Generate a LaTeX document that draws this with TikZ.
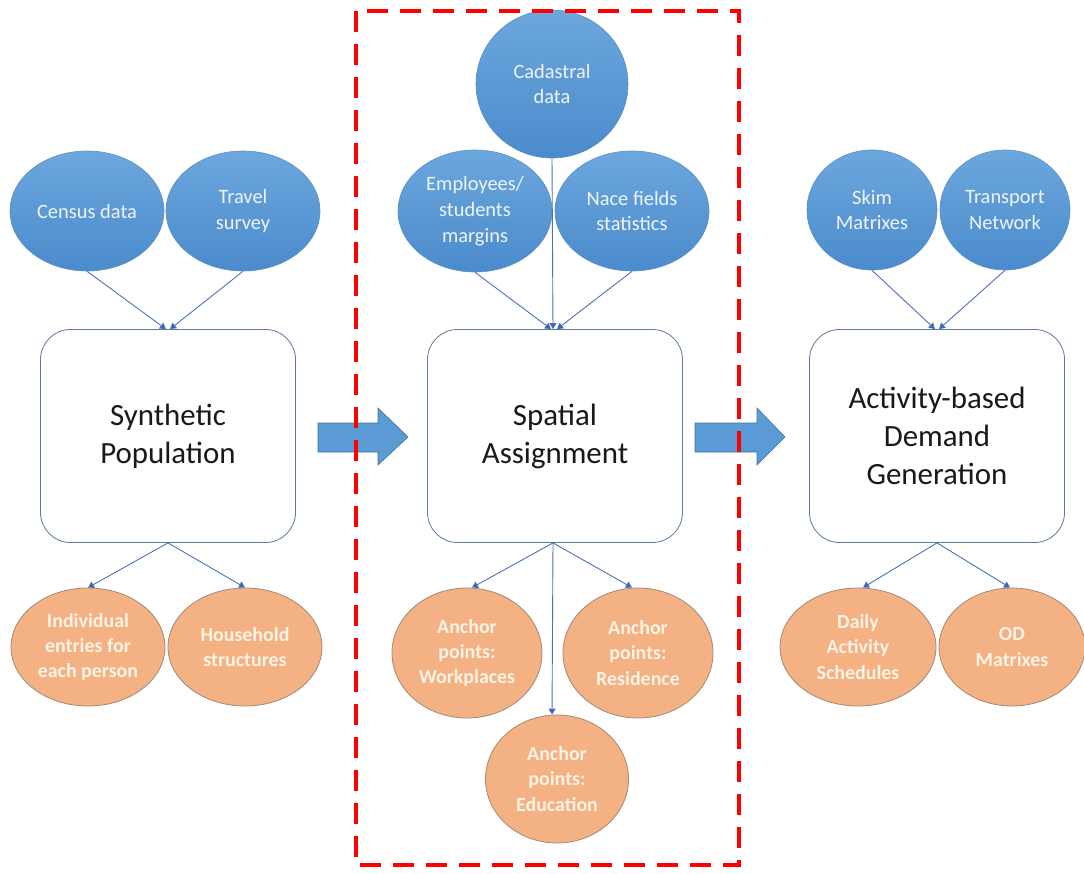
\documentclass[tikz,border=0pt]{standalone}
\usepackage{fontspec}
\setmainfont{Carlito}
\usetikzlibrary{shapes.geometric,arrows.meta}
\definecolor{blueTop}{HTML}{6CA7DD}
\definecolor{blueBot}{HTML}{4B8BCC}
\definecolor{blueEdge}{HTML}{5A8FC4}
\definecolor{blueText}{HTML}{EEF4FB}
\definecolor{orFill}{HTML}{F4B183}
\definecolor{orEdge}{HTML}{A08A78}
\definecolor{orText}{HTML}{FFF3E6}
\definecolor{lineBlue}{HTML}{4A72B8}
\definecolor{tipBlue}{HTML}{3A62B0}
\definecolor{boxEdge}{HTML}{5B7A9E}
\definecolor{bigArrow}{HTML}{5B9BD5}
\definecolor{bigArrowEdge}{HTML}{41719C}
\definecolor{redDash}{HTML}{FF0000}
\begin{document}
\begin{tikzpicture}[x=1bp,y=-1bp,
  src/.style={ellipse, draw=blueEdge, line width=0.6bp, top color=blueTop, bottom color=blueBot,
    text=blueText, font=\fontsize{20.5}{26}\selectfont, align=center, inner sep=0pt,
    minimum width=154bp, minimum height=120bp},
  res/.style={ellipse, draw=orEdge, line width=0.8bp, fill=orFill,
    text=orText, font=\fontsize{20}{25.5}\selectfont\bfseries, align=center, inner sep=0pt,
    minimum width=154bp, minimum height=118bp},
  stage/.style={draw=boxEdge, line width=0.8bp, fill=white, rounded corners=30bp,
    minimum width=255bp, minimum height=213bp, align=center,
    font=\fontsize{31}{38}\selectfont, text=black!90},
  conn/.style={draw=lineBlue, line width=0.9bp, -{Triangle[width=7bp,length=6bp,fill=tipBlue]}},
  bigarrow/.style={fill=bigArrow, draw=bigArrowEdge, line width=0.6bp},
  frame/.style={draw=redDash, line width=4bp, dash pattern=on 21bp off 12bp}
]
\useasboundingbox (0,0) rectangle (1084,874);

% ---------- left column ----------
\node[src] (census) at (87,211) {Census data};
\node[src] (travel) at (243,211) {Travel\\survey};
\node[stage] (synth) at (168,436) {Synthetic\\Population};
\node[res] (indiv) at (88,647) {Individual\\entries for\\each person};
\node[res] (house) at (245,647) {Household\\structures};

\draw[conn] (census.south) -- ([xshift=-2bp]synth.north);
\draw[conn] (travel.south) -- ([xshift=2bp]synth.north);
\draw[conn] (synth.south) -- (indiv.north);
\draw[conn] (synth.south) -- (house.north);

% ---------- middle column ----------
\node[src, minimum width=152bp, minimum height=148bp] (cad) at (552,84) {Cadastral\\data};
\node[src, minimum height=122bp] (empl) at (475,211) {Employees/\\students\\margins};
\node[src] (nace) at (632,211) {Nace fields\\statistics};
\node[stage] (spat) at (555,436) {Spatial\\Assignment};
\node[res, minimum width=150bp, minimum height=130bp] (work) at (467,653) {Anchor\\points:\\Workplaces};
\node[res, minimum width=150bp, minimum height=130bp] (resid) at (638,653) {Anchor\\points:\\Residence};
\node[res, minimum width=143bp, minimum height=128bp] (edu) at (557,779) {Anchor\\points:\\Education};

\draw[conn] (empl.south) -- ([xshift=-4bp]spat.north);
\draw[conn] (cad.south) -- ([xshift=-2bp]spat.north);
\draw[conn] (nace.south) -- ([xshift=2bp]spat.north);
\draw[conn] ([xshift=-2bp]spat.south) -- ([xshift=5bp]work.north);
\draw[conn] ([xshift=-2bp]spat.south) -- ([xshift=-6bp]resid.north);
\draw[conn] ([xshift=-2bp]spat.south) -- ([xshift=-5bp]edu.north);

% ---------- right column ----------
\node[src, minimum width=130bp] (skim) at (872,210) {Skim\\Matrixes};
\node[src, minimum width=130bp] (trans) at (1005,210) {Transport\\Network};
\node[stage] (act) at (937,436) {Activity-based\\Demand\\Generation};
\node[res, minimum width=156bp] (daily) at (858,647) {Daily\\Activity\\Schedules};
\node[res, minimum width=146bp] (od) at (1012,647) {OD\\Matrixes};

\draw[conn] (skim.south) -- ([xshift=-2bp]act.north);
\draw[conn] (trans.south) -- ([xshift=2bp]act.north);
\draw[conn] (act.south) -- ([xshift=5bp]daily.north);
\draw[conn] (act.south) -- ([xshift=-2bp]od.north);

% ---------- block arrows ----------
\draw[bigarrow] (318,423) -- (378,423) -- (378,408) -- (408,437) -- (378,465) -- (378,452) -- (318,452) -- cycle;
\draw[bigarrow] (695,423) -- (757,423) -- (757,408) -- (785,437) -- (757,465) -- (757,452) -- (695,452) -- cycle;

% ---------- highlight frame ----------
\draw[frame] (356,11) rectangle (739,865);
\end{tikzpicture}
\end{document}
